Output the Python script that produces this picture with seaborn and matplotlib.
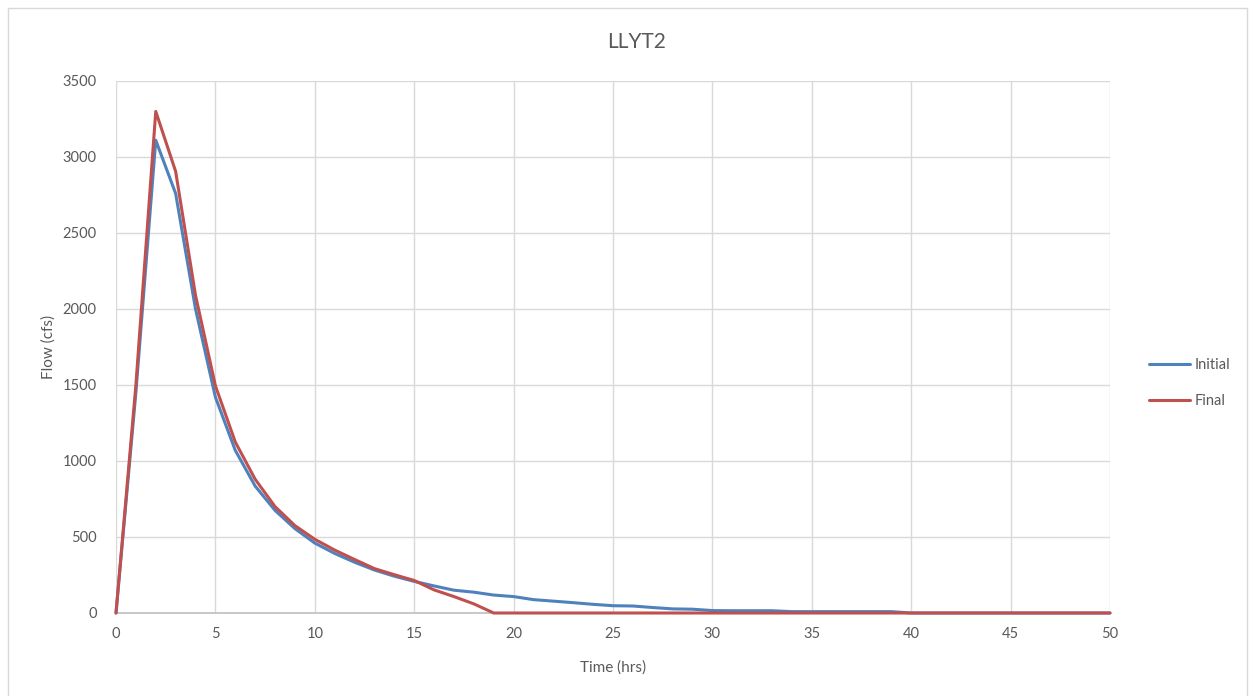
import matplotlib
matplotlib.use("Agg")
import matplotlib.pyplot as plt
import seaborn as sns
import pandas as pd
from matplotlib.patches import Rectangle

hours = list(range(0, 51))
initial = [0, 1450, 3110, 2760, 2000, 1420, 1070, 835, 675, 555, 460,
           392, 334, 283, 242, 208, 178, 150, 137, 118, 108,
           88, 78, 68, 57, 48, 46, 36, 27, 25, 16,
           15, 15, 15, 9, 9, 9, 9, 9, 9, 0,
           0, 0, 0, 0, 0, 0, 0, 0, 0, 0]
final = [0, 1500, 3300, 2905, 2090, 1495, 1125, 880, 700, 575, 485,
         414, 352, 292, 252, 214, 152, 108, 60, 0, 0,
         0, 0, 0, 0, 0, 0, 0, 0, 0, 0,
         0, 0, 0, 0, 0, 0, 0, 0, 0, 0,
         0, 0, 0, 0, 0, 0, 0, 0, 0, 0]
series_names = ["Initial", "Final"]
colors = ["#4F81BD", "#C0504D"]
title = "LLYT2"
xlabel = "Time (hrs)"
ylabel = "Flow (cfs)"

df = pd.DataFrame({"Time": hours * 2,
                   "Flow": initial + final,
                   "Series": [series_names[0]] * len(hours) + [series_names[1]] * len(hours)})

sns.set_style("white")
plt.rcParams["font.family"] = ["Lato", "DejaVu Sans"]

W, H = 1250, 696
fig = plt.figure(figsize=(W / 100, H / 100), dpi=100)
ax = fig.add_axes([116 / W, 1 - 613 / H, (1110 - 116) / W, (613 - 81) / H])

sns.lineplot(data=df, x="Time", y="Flow", hue="Series", palette=colors,
             linewidth=2.2, ax=ax, legend=True)
for ln in ax.get_lines():
    ln.set_zorder(4)
    ln.set_clip_on(False)

ax.set_xlim(0, 50)
ax.set_ylim(0, 3500)
ax.set_xticks(range(0, 51, 5))
ax.set_yticks(range(0, 3501, 500))
ax.grid(True, color="#D9D9D9", linewidth=1.0)
ax.set_axisbelow(True)
for s in ["top", "right", "left"]:
    ax.spines[s].set_visible(False)
ax.spines["bottom"].set_color("#BFBFBF")
ax.spines["bottom"].set_linewidth(1.2)
ax.spines["bottom"].set_zorder(1)
ax.tick_params(axis="both", length=0, labelsize=10.5, colors="#595959", pad=10)
ax.tick_params(axis="y", pad=14)
ax.set_xlabel(xlabel, fontsize=11, color="#595959", labelpad=14)
ax.set_ylabel(ylabel, fontsize=11, color="#595959", labelpad=5)
fig.text(637 / W, 1 - 42 / H, title, ha="center", va="center", fontsize=15, color="#595959")

leg = ax.legend(loc="center left", bbox_to_anchor=(1.026, 0.432), frameon=False,
                fontsize=10.5, handlelength=2.8, labelspacing=1.55, handletextpad=0.3)
for t in leg.get_texts():
    t.set_color("#595959")

fig.patches.append(Rectangle((8 / W, -0.01), (1247 - 8) / W, 1 - 8 / H + 0.01,
                             transform=fig.transFigure, fill=False,
                             edgecolor="#D9D9D9", linewidth=1.0))

fig.savefig("out.png", dpi=100, facecolor="white")
